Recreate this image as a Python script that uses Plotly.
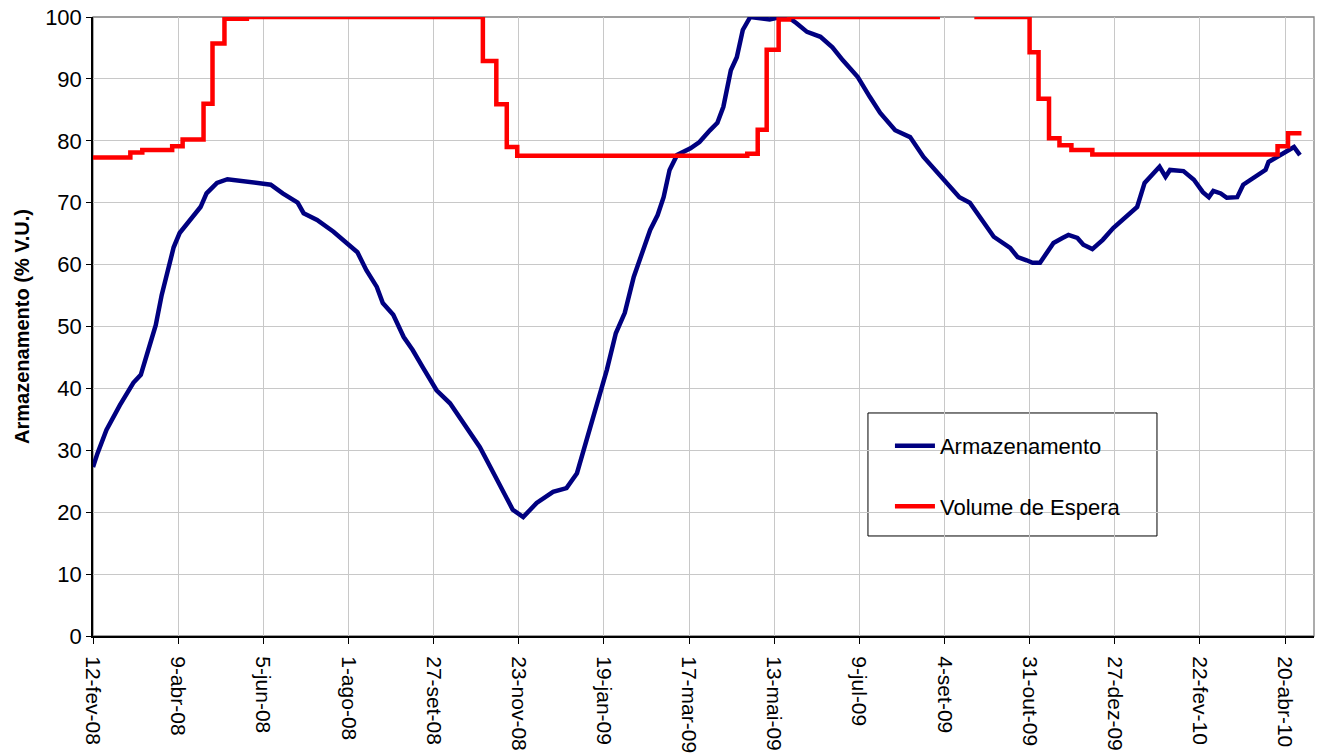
import pandas as pd
import plotly.graph_objects as go

inicio = "2008-02-12"

dias_arm = [0, 3, 9, 18, 27, 32, 37, 42, 46, 50, 54, 58, 65, 72, 76, 83, 90, 100, 112, 119,
            127, 137, 141, 150, 161, 170, 177, 183, 190, 194, 201, 208, 214, 221, 230, 239,
            250, 259, 266, 275, 281, 288, 297, 308, 317, 324, 328, 333, 339, 344, 350, 356,
            362, 366, 373, 378, 382, 386, 391, 400, 406, 413, 418, 422, 427, 431, 435, 440,
            447, 453, 460, 467, 471, 478, 487, 495, 502, 512, 520, 527, 537, 547, 556, 567,
            580, 587, 594, 603, 614, 619, 625, 629, 634, 643, 649, 653, 659, 663, 669, 676,
            683, 692, 699, 704, 714, 718, 721, 730, 737, 743, 747, 750, 755, 759, 766, 770,
            775, 781, 785, 787, 793, 797, 804, 808]
armazenamento = [27.3, 29.5, 33.3, 37.3, 40.9, 42.2, 46.2, 50.2, 55.1, 59.1, 62.8, 65.1, 67.2,
                 69.3, 71.5, 73.2, 73.8, 73.5, 73.1, 72.9, 71.5, 70.0, 68.3, 67.2, 65.3, 63.5,
                 62.0, 59.1, 56.4, 53.8, 51.9, 48.3, 46.2, 43.3, 39.7, 37.6, 33.8, 30.5, 27.3,
                 23.1, 20.4, 19.2, 21.5, 23.3, 23.9, 26.3, 29.6, 33.3, 38.6, 43.0, 48.9, 52.2,
                 58.0, 60.7, 65.6, 68.0, 70.9, 75.3, 77.7, 78.8, 79.8, 81.7, 82.9, 85.5, 91.4,
                 93.5, 97.9, 100.0, 99.8, 99.6, 100.0, 99.7, 99.0, 97.6, 96.8, 95.1, 93.0, 90.3,
                 87.1, 84.5, 81.7, 80.6, 77.4, 74.5, 70.9, 70.0, 67.5, 64.5, 62.7, 61.2, 60.7,
                 60.3, 60.3, 63.5, 64.3, 64.8, 64.3, 63.2, 62.5, 64.0, 65.9, 67.7, 69.3, 73.2,
                 75.8, 74.2, 75.3, 75.1, 73.7, 71.7, 70.9, 71.9, 71.5, 70.8, 70.9, 72.9, 73.7,
                 74.8, 75.3, 76.6, 77.4, 78.0, 79.0, 77.7]

dias_ve = [0, 25, 33, 53, 60, 74, 80, 88, 103, 261, 270, 277, 284, 438, 445, 451, 459, 466,
           567, 567, 590, 627, 633, 640, 647, 655, 669, 793, 800, 809]
volume_espera = [77.3, 78.1, 78.5, 79.1, 80.2, 86.0, 95.7, 99.7, 100, 92.9, 85.9, 79.0, 77.6,
                 77.9, 81.8, 94.7, 99.6, 100, 100, None, 100, 94.3, 86.8, 80.4, 79.3, 78.5,
                 77.8, 79.1, 81.2, 81.2]

rotulos_x = ["12-fev-08", "9-abr-08", "5-jun-08", "1-ago-08", "27-set-08", "23-nov-08",
             "19-jan-09", "17-mar-09", "13-mai-09", "9-jul-09", "4-set-09", "31-out-09",
             "27-dez-09", "22-fev-10", "20-abr-10"]
passo_rotulo_dias = 57
fim_eixo_dias = 817.4

t0 = pd.Timestamp(inicio)
x_arm = [t0 + pd.Timedelta(days=d) for d in dias_arm]
x_ve = [t0 + pd.Timedelta(days=d) for d in dias_ve]
tickvals = [t0 + pd.Timedelta(days=passo_rotulo_dias * i) for i in range(len(rotulos_x))]
x_fim = t0 + pd.Timedelta(days=fim_eixo_dias)

FONT = "Liberation Sans, Arial, sans-serif"

fig = go.Figure()
fig.add_trace(go.Scatter(x=x_arm, y=armazenamento, mode="lines", name="Armazenamento",
                         line=dict(color="#000080", width=4.5), legendgroup="a"))
fig.add_trace(go.Scatter(x=x_ve, y=volume_espera, mode="lines", name="Volume de Espera",
                         line=dict(color="#FF0000", width=4.5, shape="hv"),
                         connectgaps=False, legendgroup="b"))

fig.update_layout(
    width=1323, height=755,
    margin=dict(l=93, r=9, t=17, b=119, autoexpand=False),
    paper_bgcolor="white", plot_bgcolor="white",
    font=dict(family=FONT, size=21, color="black"),
    showlegend=True,
    legend=dict(x=0.6527, y=0.341, xanchor="left", yanchor="top",
                bgcolor="rgba(0,0,0,0)", borderwidth=0,
                font=dict(family=FONT, size=22, color="black"),
                traceorder="grouped", tracegroupgap=29, itemwidth=40),
    xaxis=dict(type="date", range=[t0, x_fim], tickmode="array", tickvals=tickvals,
               ticktext=rotulos_x, tickangle=90, ticks="outside", ticklen=6,
               tickcolor="black", showgrid=True, gridcolor="#c8c8c8", gridwidth=1,
               showline=True, linecolor="black", linewidth=2, zeroline=False,
               automargin=False,
               tickfont=dict(family=FONT, size=21), ticklabelstandoff=8),
    yaxis=dict(range=[0, 100], dtick=10, tick0=0, ticks="outside", ticklen=5,
               tickcolor="black", showgrid=True, gridcolor="#c8c8c8", gridwidth=1,
               showline=True, linecolor="black", linewidth=1.5, zeroline=False,
               automargin=False,
               tickfont=dict(family=FONT, size=22),
               title=dict(text="<b>Armazenamento (% V.U.)</b>", standoff=10,
                          font=dict(family=FONT, size=20))),
    shapes=[
        dict(type="rect", xref="paper", yref="paper", x0=0, x1=1, y0=0, y1=1,
             line=dict(color="#808080", width=1.3), fillcolor="rgba(0,0,0,0)", layer="between"),
        dict(type="rect", xref="paper", yref="paper", x0=0.6347, x1=0.8714, y0=0.1616, y1=0.3603,
             line=dict(color="black", width=1), fillcolor="white", layer="between"),
    ],
)

fig.write_html("out.html", config={"displayModeBar": False},
               post_script="document.body.style.margin='0';document.body.style.overflow='hidden';")
